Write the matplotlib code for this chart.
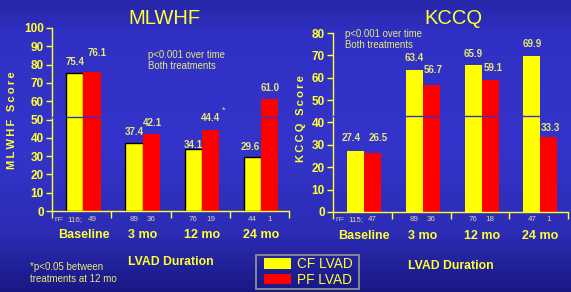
import numpy as np
import matplotlib
matplotlib.use("Agg")
import matplotlib.pyplot as plt
from matplotlib.patches import Patch, Rectangle

# ---------------- data ----------------
categories = ["Baseline", "3 mo", "12 mo", "24 mo"]
mlwhf_cf = [75.4, 37.4, 34.1, 29.6]
mlwhf_pf = [76.1, 42.1, 44.4, 61.0]
mlwhf_n_cf = [116, 89, 76, 44]
mlwhf_n_pf = [49, 36, 19, 1]
kccq_cf = [27.4, 63.4, 65.9, 69.9]
kccq_pf = [26.5, 56.7, 59.1, 33.3]
kccq_n_cf = [115, 89, 76, 47]
kccq_n_pf = [47, 36, 18, 1]
mlwhf_ticks = list(range(0, 101, 10))
kccq_ticks = list(range(0, 81, 10))

# label offsets (pixels) - style only
mlwhf_off_cf = [(0, 11), (0, 11), (0, 4), (-2, 10)]
mlwhf_off_pf = [(5, 19), (1, 11), (0, 12), (0, 11)]
kccq_off_cf = [(-4, 13), (0, 12), (0, 11), (0, 12)]
kccq_off_pf = [(6, 15), (2, 15), (3, 12), (1, 9)]

W, H = 571, 292
YEL = "#ffff00"
RED = "#ff0000"
TXT = "#ffff33"
PALE = "#e8e878"
NCOL = "#d8d8a8"
BG = "#3333cc"
SANS = ["Liberation Sans", "DejaVu Sans"]

fig = plt.figure(figsize=(W / 100, H / 100), dpi=100)

# background gradient
bg = fig.add_axes([0, 0, 1, 1], zorder=-10)
stops_y = [0.0, 0.12, 0.5, 0.8, 1.0]
stops_c = np.array([[0x26, 0x26, 0xa8], [0x30, 0x30, 0xc4], [0x34, 0x34, 0xcc],
                    [0x2c, 0x2c, 0xb4], [0x18, 0x18, 0x84]]) / 255.0
yy = np.linspace(0, 1, 300)
grad = np.stack([np.interp(yy, stops_y, stops_c[:, k]) for k in range(3)], axis=-1)
grad = np.repeat(grad[:, None, :], 10, axis=1)
bg.imshow(grad, aspect="auto", extent=[0, 1, 0, 1], origin="upper")
bg.set_axis_off()


def panel(rect, cf, pf, ncf, npf, ticks, ymax, title, off_cf, off_pf,
          cf_edge, artifact_y, title_xy, dur_y):
    ax = fig.add_axes(rect)
    ax.set_facecolor("none")
    x = np.arange(len(categories)) + 0.53
    bw = 0.29
    ax.bar(x - bw / 2, cf, bw, color=YEL, edgecolor=cf_edge,
           linewidth=1.0 if cf_edge != "none" else 0, zorder=2)
    ax.bar(x + bw / 2, pf, bw, color=RED, linewidth=0, zorder=2)
    ax.axhline(artifact_y, color=BG, linewidth=1.0, zorder=3)
    for xs, vals, offs in ((x - bw / 2, cf, off_cf), (x + bw / 2, pf, off_pf)):
        for xi, v, o in zip(xs, vals, offs):
            ax.annotate(f"{v:.1f}", (xi, v), xytext=o, textcoords="offset pixels",
                        ha="center", va="center", color=PALE, fontsize=7.0,
                        fontweight="bold", family=SANS, zorder=4)
    ax.set_xlim(0, len(categories))
    ax.set_ylim(0, ymax)
    ax.set_yticks(ticks)
    ax.set_yticklabels([str(t) for t in ticks], color=TXT, fontsize=8.5,
                       fontweight="bold", family=SANS)
    ax.tick_params(axis="y", colors=TXT, length=4, width=1, pad=2,
                   labelcolor=TXT)
    ax.set_xticks(np.arange(len(categories) + 1))
    ax.set_xticklabels([""] * (len(categories) + 1))
    ax.tick_params(axis="x", colors=TXT, length=5, width=1, direction="out")
    for s in ["top", "right"]:
        ax.spines[s].set_visible(False)
    for s in ["left", "bottom"]:
        ax.spines[s].set_color(TXT)
        ax.spines[s].set_linewidth(1.0)
    trans = ax.get_xaxis_transform()
    for i, (a, b) in enumerate(zip(ncf, npf)):
        la = f"{a};" if i == 0 else str(a)
        ax.text(x[i] - bw / 2, -0.025, la, transform=trans, ha="center", va="top",
                color=NCOL, fontsize=5.8, family=SANS)
        ax.text(x[i] + bw / 2, -0.025, str(b), transform=trans, ha="center", va="top",
                color=NCOL, fontsize=5.8, family=SANS)
        if i == 0:
            ax.text(0.04, -0.025, "n=", transform=trans, ha="left", va="top",
                    color=NCOL, fontsize=5.8, family=SANS)
        ax.text(x[i], -0.1, categories[i], transform=trans, ha="center", va="top",
                color=TXT, fontsize=9, fontweight="bold", family=SANS)
    ax.text(0.5, dur_y, "LVAD Duration", transform=ax.transAxes, ha="center",
            va="top", color=TXT, fontsize=8.8, fontweight="bold", family=SANS)
    fig.text(title_xy[0] / W, 1 - title_xy[1] / H, title, ha="center", va="center",
             color=TXT, fontsize=14.5, family=SANS)
    return ax


axL = panel([52 / W, (H - 211) / H, 237 / W, 183 / H],
            mlwhf_cf, mlwhf_pf, mlwhf_n_cf, mlwhf_n_pf, mlwhf_ticks, 100,
            "MLWHF", mlwhf_off_cf, mlwhf_off_pf, "black", 51.5, (164, 19), -0.245)
axR = panel([333 / W, (H - 212) / H, 235 / W, 179 / H],
            kccq_cf, kccq_pf, kccq_n_cf, kccq_n_pf, kccq_ticks, 80,
            "KCCQ", kccq_off_cf, kccq_off_pf, "none", 42.8, (453, 18), -0.27)

# y labels (letter spaced with thin spaces)
TS = "\u2009"
fig.text(12 / W, 1 - 120 / H, TS.join("MLWHF Score"), rotation=90, ha="center",
         va="center", color=TXT, fontsize=8, fontweight="bold", family=SANS)
fig.text(301 / W, 1 - 119 / H, TS.join("KCCQ Score"), rotation=90, ha="center",
         va="center", color=TXT, fontsize=8, fontweight="bold", family=SANS)

# annotations
fig.text(148 / W, 1 - 50 / H, "p<0.001 over time\nBoth treatments", ha="left",
         va="top", color=PALE, fontsize=6.9, family=SANS, linespacing=1.15)
fig.text(345 / W, 1 - 29 / H, "p<0.001 over time\nBoth treatments", ha="left",
         va="top", color=PALE, fontsize=6.9, family=SANS, linespacing=1.15)
fig.text(222 / W, 1 - 110 / H, "*", ha="left", va="center", color=PALE,
         fontsize=6.5, family=SANS)
fig.text(30 / W, 1 - 262 / H, "*p<0.05 between\ntreatments at 12 mo", ha="left",
         va="top", color=PALE, fontsize=7.0, family=SANS, linespacing=1.25)

# legend (frame drawn separately)
fig.patches.append(Rectangle((256 / W, (H - 289) / H), 103 / W, 34 / H,
                             transform=fig.transFigure, fill=False,
                             edgecolor="#909090", linewidth=1.3))
leg = fig.legend([Patch(facecolor=YEL), Patch(facecolor=RED)], ["CF LVAD", "PF LVAD"],
                 loc="center left", bbox_to_anchor=(264 / W, (H - 272) / H),
                 frameon=False, handlelength=1.95, handleheight=0.8,
                 labelspacing=0.12, borderpad=0.0, handletextpad=0.45,
                 borderaxespad=0, prop={"family": SANS, "size": 9.8})
for t in leg.get_texts():
    t.set_color(TXT)

fig.savefig("out.png", dpi=100)
